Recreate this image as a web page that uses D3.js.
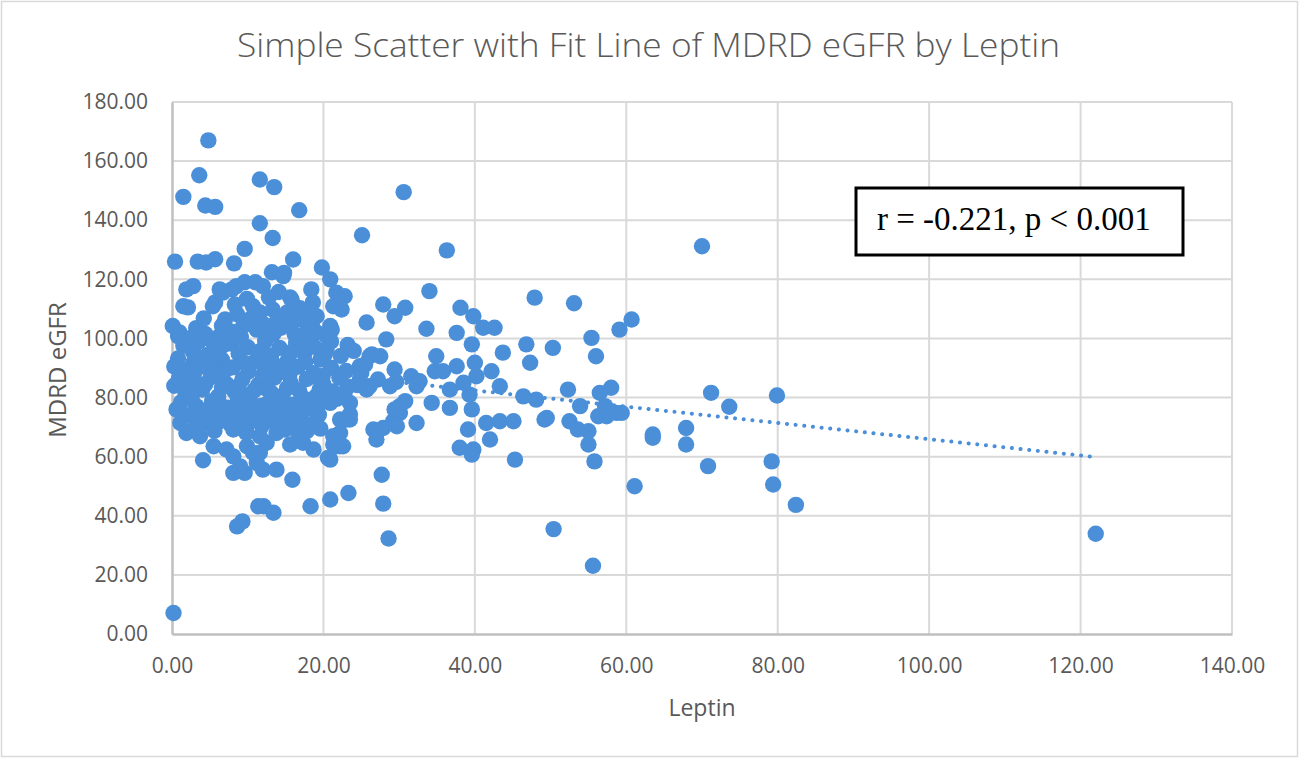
<!DOCTYPE html>
<html>
<head>
<meta charset="utf-8">
<script src="https://cdn.jsdelivr.net/npm/d3@7"></script>
<style>
  body { margin: 0; background: #fff; }
  svg { display: block; }
</style>
</head>
<body>
<svg id="chart"></svg>
<script>
// [leptin, MDRD eGFR] pairs, grouped by the region of the plot they were read from
const topPoints = [
  [4.8,167],[3.6,155.2],[1.5,147.9],[4.4,145],[5.7,144.5],[11.6,153.8],[13.5,151.2],[16.8,143.4],[11.6,139],[13.3,134],
  [9.6,130.3],[0.4,126],[3.4,126],[4.5,125.7],[5.7,126.8],[8.2,125.4],[16,126.7],[13.2,122.4],[14.8,122.2],[19.8,124],
  [20.9,120],[30.6,149.5],[25.1,134.9],[36.3,129.8],[70,131.2]
];
const upperPoints = [
  [2.8,117.7],[1.9,116.6],[5.7,112.2],[6.7,115.5],[7.9,116.6],[8.5,117.7],[9.6,119],[11,119],[12,117.7],[14.7,121.1],
  [15.8,113.2],[18.4,116.6],[18.6,112.2],[18.2,109.8],[21.7,115.5],[22.8,114.3],[21.3,110.9],[22.4,109.8],[1.5,110.9],[2.1,110.5],
  [0.1,104.2],[0.8,100.8],[7,106.4],[10.7,110.9],[11.6,108.8],[13.3,109.8],[15.2,108.8],[16.5,106.4],[17.8,105.4],[19.1,107.5],
  [20.9,104.2],[20.4,100.8],[2.8,95.3],[5,99.7],[6.3,100.8],[9.4,104.2],[11.2,103],[6.3,116.6],[5.4,110.9],[15.6,113.9],
  [25.7,105.4],[27.9,111.5],[28.3,99.7],[29.4,107.5],[26.1,94],[1,102],[19.1,102],[21.1,103],[20.4,96.3],[24.8,90.6],
  [3.2,103.5],[4.4,101.5],[7.9,102.3],[12.8,100.9],[14.4,103.6],[16.2,101.4],[17.9,103.2],[13.9,106],[8.6,108.2],[4.2,106.8],
  [23.2,97.8],[10.3,106.5],[12.1,104.8],[15.1,105.2],[18.5,103.9],[6.6,104.3],[9.9,113.4],[12.8,113.9],[14.1,115.7],[16.9,110.2],
  [8.3,111.5]
];
const midPoints = [
  [30.8,110.4],[34,116],[33.6,103.3],[38.1,110.4],[39.8,107.5],[41.1,103.6],[42.6,103.6],[37.6,101.9],[39.6,98],[43.7,95.2],
  [46.8,98],[47.3,91.8],[47.9,113.8],[26.4,94.6],[27.5,94],[25.5,91.2],[25,88.4],[29.4,89.5],[31.6,87.2],[32.7,85.5],
  [34.9,94],[34.7,88.9],[35.8,88.9],[37.6,90.6],[40,91.8],[40.2,87.2],[42.2,88.9],[36.7,82.7],[39.3,81],[43.3,83.8],
  [46.4,80.4],[48.1,79.3],[34.3,78.2],[36.7,76.5],[39.6,76],[30.8,78.8],[30.1,74.8],[29.2,72],[32.3,71.4],[27,68],
  [27.9,69.7],[39.1,69.2],[41.5,71.4],[43.3,72],[45.1,72],[42,65.8],[38,63],[39.8,62.4],[22.8,81.6],[23.5,78.2],
  [23,72.6],[22.2,68],[24.8,86.1],[26.1,83.8],[26.6,69.2],[27,65.8],[27.7,53.9],[23.3,47.7],[20.9,45.5],[27.9,44.1],
  [28.6,32.3],[45.3,59],[50.4,35.5],[49.2,72.6],[29.7,70.3],[29.4,76],[22.2,63.5],[20.9,59],[28.8,83.8],[32.3,83.8],
  [38.5,85],[39.6,60.7],[30.1,77.1]
];
const rightPoints = [
  [53.1,111.9],[55.4,100.2],[56,94],[59.1,103],[60.7,106.4],[50.3,96.8],[52.3,82.7],[49.5,73.1],[52.5,72],[53.9,77.1],
  [53.6,69.2],[55,68.6],[55,64.1],[55.8,58.4],[56.5,81.6],[58,83.3],[56.3,73.7],[57.4,73.7],[58.7,74.8],[59.4,74.8],
  [57.2,77.1],[61.1,50],[63.5,67.5],[63.5,66.4],[67.9,69.7],[67.9,64.1],[71.2,81.6],[73.6,76.9],[70.8,56.8],[79.9,80.7],
  [79.2,58.4],[79.4,50.6],[82.4,43.7],[55.6,23.1],[122,33.9]
];
const lowPoints = [
  [0.2,7.1],[8.6,36.4],[9.3,38.1],[11.4,43.2],[12.1,43.2],[13.4,41],[15.9,52.2],[18.3,43.2],[4.1,58.8],[8.1,54.5],
  [9.6,54.5],[12,55.6],[13.8,55.6],[9,56.7],[11.2,57.9],[18.7,62.4],[20.6,59.6],[22.6,63.5],[14.9,69.2],[15.6,64.1],
  [17.3,64.7],[17.8,68.6],[25.7,82.7],[0.3,84],[0.6,76],[1.1,71.4],[1.9,68],[3.7,66.9],[5.5,63.5],[3.3,73.7],
  [4.6,71.4],[7.2,62.4],[8.1,60.1],[9.9,63.5],[10.7,61.3],[11.6,61.3],[8.1,69.2],[9.9,70.3],[12.5,64.7],[11.6,66.9],
  [13.8,68],[16,74.8],[13.4,76],[5.9,74.8],[8.1,76],[10.7,74.8],[20.9,78.2],[22.2,72.6],[23.5,72.6],[18.7,78.2],
  [19.5,82.7],[21.3,66.9],[21.7,63.5],[21.3,64.1],[23.5,74.3]
];
const clusterPoints = [
  [1.5,97.5],[3.5,98.8],[5.8,96.4],[7.9,98.2],[10,97],[12.3,99.1],[14.2,96.8],[16.4,98.5],[18.8,97.2],[21,99],
  [0.8,93.2],[2.9,92.1],[4.7,94.4],[6.6,92.8],[8.8,94.9],[11,92.3],[13.1,94.2],[15.3,92.6],[17.5,95],[19.6,92.9],[22.3,94.1],[24,95.8],
  [1.9,89.4],[4,90.7],[6,88.3],[8,90.2],[10.1,88.8],[12.2,90.9],[14.4,88.6],[16.6,90.4],[18.7,88.2],[21,90.1],[23,89],
  [0.9,86.4],[3,85.1],[5.1,86.9],[7.2,84.6],[9.3,86.2],[11.4,84.3],[13.5,86.7],[15.7,84.8],[17.8,86.3],[20,84.5],[22.1,86.8],[24.5,84.2],[27.2,86.1],[29.6,85.3],
  [1.8,81.2],[4,82.7],[6.1,80.4],[8.2,82.2],[10.3,80.8],[12.5,82.9],[14.6,80.6],[16.8,82.4],[19,80.3],[21.2,82.1],[23.2,83.7],
  [1.2,78.4],[3.2,77.1],[5.3,78.8],[7.4,76.6],[9.5,78.5],[11.7,77.2],[13.8,79.1],[16,77.6],[18,76.4],[20.1,78.9],
  [2.4,74.1],[4.5,72.8],[6.6,74.6],[8.7,72.4],[10.8,73.5],[13,72.2],[15,73.9],[17,72.6],[19.4,74.2],
  [3.5,70.2],[5.6,68.8],[7.7,71],[9.8,68.1],[11.9,70.6],[14,69.8],[16.3,70.9],[19.6,69.5],
  [2.5,100.2],[6.8,97.7],[9.1,100.5],[11.5,95.6],[13.4,101.6],[15.8,95.4],[18,100.1],[20.2,94.7],
  [0.3,90.5],[2.9,88],[5.2,92],[7.1,89.3],[9.6,91.6],[12,87.6],[13.4,91.3],[15.5,87.5],[17.6,92],[19.9,87.3],
  [2.1,83.9],[4.4,84.5],[6.6,83.5],[8.8,83.9],[10.9,82.5],[13.1,81.6],[15.2,83.2],[17.3,79.9],[19.6,85.9],[21.8,79.6],
  [2.6,79.7],[4.7,76],[6.4,77.5],[8.7,79.8],[10.6,76.4],[12.7,78.1],[15.1,76.2],[17.1,77.8],[19.2,76.9],
  [3.2,70.9],[6.1,71.7],[9.4,73.8],[12.2,73.9],[14.4,72.8],[16.6,68.4],[18.3,71]
];

// linear fit, drawn over the data range
const fitLeptin = [0.1, 122];
const fitEgfr = [93.4, 59.85];

const xTicks = [0, 20, 40, 60, 80, 100, 120, 140];
const yTicks = [0, 20, 40, 60, 80, 100, 120, 140, 160, 180];

const title = "Simple Scatter with Fit Line of MDRD eGFR by Leptin";
const xLabel = "Leptin";
const yLabel = "MDRD eGFR";
const statText = "r = -0.221, p < 0.001";

const width = 1304, height = 760;
const blue = "#4a8fd8";
const textGrey = "#595959";
const sans = "'Open Sans', 'Noto Sans', sans-serif";

const data = [...topPoints, ...upperPoints, ...midPoints, ...rightPoints, ...lowPoints, ...clusterPoints]
  .map(([leptin, egfr]) => ({leptin, egfr}));

const x = d3.scaleLinear([0, 140], [172, 1232]);
const y = d3.scaleLinear([0, 180], [634, 102]);
const fmt = d3.format(".2f");

const svg = d3.select("#chart")
    .attr("width", width)
    .attr("height", height)
    .attr("viewBox", [0, 0, width, height]);

svg.append("rect")
    .attr("x", 1.5).attr("y", 1.5)
    .attr("width", 1296).attr("height", 755)
    .attr("fill", "#fff")
    .attr("stroke", "#d9d9d9")
    .attr("stroke-width", 1.5);

// gridlines
svg.append("g")
    .attr("stroke", "#d9d9d9")
    .attr("stroke-width", 2)
  .call(g => g.selectAll("line.h")
    .data(yTicks.filter(d => d > 0))
    .join("line")
      .attr("x1", x(0)).attr("x2", x(140))
      .attr("y1", d => y(d)).attr("y2", d => y(d)))
  .call(g => g.selectAll("line.v")
    .data(xTicks.filter(d => d > 0))
    .join("line")
      .attr("x1", d => x(d)).attr("x2", d => x(d))
      .attr("y1", y(0)).attr("y2", y(180)));

const xAxis = g => g
    .attr("transform", `translate(0,${y(0)})`)
    .call(d3.axisBottom(x).tickValues(xTicks).tickFormat(fmt).tickSize(0).tickPadding(24))
    .call(g => g.select(".domain").attr("stroke", "#bfbfbf").attr("stroke-width", 2.5))
    .call(g => g.selectAll("text").attr("fill", textGrey).attr("font-size", 21).attr("font-family", sans));

const yAxis = g => g
    .attr("transform", `translate(${x(0)},0)`)
    .call(d3.axisLeft(y).tickValues(yTicks).tickFormat(fmt).tickSize(0).tickPadding(24))
    .call(g => g.select(".domain").attr("stroke", "#bfbfbf").attr("stroke-width", 2.5))
    .call(g => g.selectAll("text").attr("fill", textGrey).attr("font-size", 21).attr("font-family", sans));

svg.append("g").call(xAxis);
svg.append("g").call(yAxis);

// points
svg.append("g")
    .attr("fill", blue)
  .selectAll("circle")
  .data(data)
  .join("circle")
    .attr("cx", d => x(d.leptin))
    .attr("cy", d => y(d.egfr))
    .attr("r", 8.2);

// dotted fit line
svg.append("path")
    .datum(d3.zip(fitLeptin, fitEgfr))
    .attr("fill", "none")
    .attr("stroke", blue)
    .attr("stroke-width", 4)
    .attr("stroke-linecap", "round")
    .attr("stroke-dasharray", "0.1 8.6")
    .attr("d", d3.line(d => x(d[0]), d => y(d[1])));

// stats box
svg.append("rect")
    .attr("x", 856).attr("y", 188)
    .attr("width", 327).attr("height", 67)
    .attr("fill", "#fff")
    .attr("stroke", "#000")
    .attr("stroke-width", 3);

svg.append("text")
    .attr("x", 877).attr("y", 230)
    .attr("font-family", "'Liberation Serif', 'Times New Roman', serif")
    .attr("font-size", 33)
    .attr("fill", "#000")
    .text(statText);

svg.append("text")
    .attr("x", 648.5).attr("y", 57)
    .attr("text-anchor", "middle")
    .attr("font-family", sans)
    .attr("font-weight", 300)
    .attr("font-size", 33)
    .attr("textLength", 823)
    .attr("lengthAdjust", "spacingAndGlyphs")
    .attr("fill", textGrey)
    .text(title);

svg.append("text")
    .attr("x", 702).attr("y", 716)
    .attr("text-anchor", "middle")
    .attr("font-family", sans)
    .attr("font-size", 23)
    .attr("fill", textGrey)
    .text(xLabel);

svg.append("text")
    .attr("transform", `translate(66,370) rotate(-90)`)
    .attr("text-anchor", "middle")
    .attr("font-family", sans)
    .attr("font-size", 24)
    .attr("fill", textGrey)
    .text(yLabel);
</script>
</body>
</html>
